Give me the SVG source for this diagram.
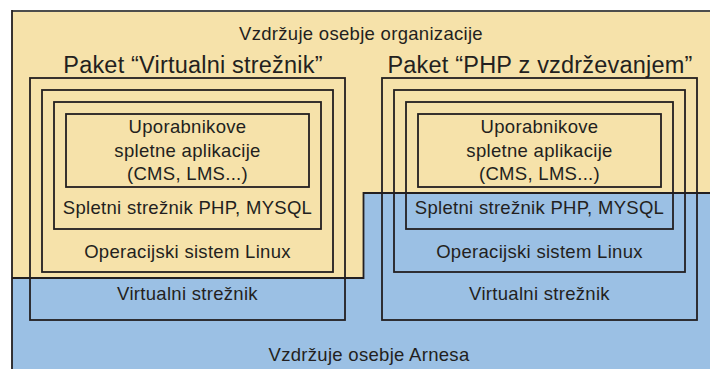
<svg xmlns="http://www.w3.org/2000/svg" width="710" height="369" viewBox="0 0 710 369">
  <style>
    text { font-family: "Liberation Sans", Arial, sans-serif; fill: #231f20; text-anchor: middle; }
    .lbl { font-size: 18.5px; letter-spacing: 0.3px; }
    .pkg { font-size: 23.5px; letter-spacing: 0.2px; }
    .box { fill: none; stroke: #231f20; stroke-width: 1.8; }
    .edge { fill: none; stroke: #231f20; stroke-width: 1.8; }
  </style>

  <rect x="0" y="0" width="710" height="369" fill="#ffffff"/>

  <!-- maintenance zones -->
  <g id="zone-arnes">
    <rect x="12" y="11" width="698" height="358" fill="#9bc0e4"/>
    <text class="lbl" x="369" y="361">Vzdržuje osebje Arnesa</text>
  </g>
  <g id="zone-organization">
    <polygon points="12,11 710,11 710,193 363.5,193 363.5,278 12,278" fill="#f6e2aa"/>
    <polyline class="edge" points="710,193 363.5,193 363.5,278 12,278"/>
    <line x1="12" y1="11" x2="710" y2="11" stroke="#4d4d4d" stroke-width="1.8"/>
    <line x1="12" y1="10" x2="12" y2="369" stroke="#231f20" stroke-width="1.8"/>
    <text class="lbl" x="361" y="40">Vzdržuje osebje organizacije</text>
  </g>

  <!-- package: virtual server -->
  <g id="package-virtual">
    <text class="pkg" x="193" y="73">Paket “Virtualni strežnik”</text>
    <g id="vs-virtual-server">
      <rect class="box" x="30" y="78" width="315" height="242"/>
      <text class="lbl" x="187.5" y="300">Virtualni strežnik</text>
    </g>
    <g id="vs-os">
      <rect class="box" x="42" y="90" width="291" height="182"/>
      <text class="lbl" x="187.5" y="258">Operacijski sistem Linux</text>
    </g>
    <g id="vs-web-server">
      <rect class="box" x="54" y="102" width="267" height="127"/>
      <text class="lbl" x="187.5" y="214">Spletni strežnik PHP, MYSQL</text>
    </g>
    <g id="vs-apps">
      <rect class="box" x="66" y="114" width="243" height="73"/>
      <text class="lbl" x="187.5" y="133">Uporabnikove</text>
      <text class="lbl" x="187.5" y="156.5">spletne aplikacije</text>
      <text class="lbl" x="187.5" y="180">(CMS, LMS...)</text>
    </g>
  </g>

  <!-- package: PHP with maintenance -->
  <g id="package-php">
    <text class="pkg" x="540" y="73">Paket “PHP z vzdrževanjem”</text>
    <g id="php-virtual-server">
      <rect class="box" x="382" y="78" width="315" height="242"/>
      <text class="lbl" x="539.5" y="300">Virtualni strežnik</text>
    </g>
    <g id="php-os">
      <rect class="box" x="394" y="90" width="291" height="182"/>
      <text class="lbl" x="539.5" y="258">Operacijski sistem Linux</text>
    </g>
    <g id="php-web-server">
      <rect class="box" x="406" y="102" width="267" height="127"/>
      <text class="lbl" x="539.5" y="214">Spletni strežnik PHP, MYSQL</text>
    </g>
    <g id="php-apps">
      <rect class="box" x="418" y="114" width="243" height="73"/>
      <text class="lbl" x="539.5" y="133">Uporabnikove</text>
      <text class="lbl" x="539.5" y="156.5">spletne aplikacije</text>
      <text class="lbl" x="539.5" y="180">(CMS, LMS...)</text>
    </g>
  </g>
</svg>
